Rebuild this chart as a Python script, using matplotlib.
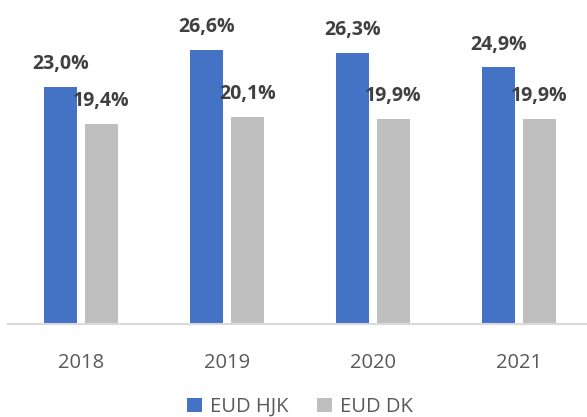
import matplotlib.pyplot as plt
import numpy as np

# Daten
years = ['2018', '2019', '2020', '2021']
eud_hjk = [23.0, 26.6, 26.3, 24.9]
eud_dk = [19.4, 20.1, 19.9, 19.9]
series_names = ['EUD HJK', 'EUD DK']

blue = '#4472C4'
gray = '#BFBFBF'
text_col = '#404040'

plt.rcParams['font.family'] = ['Open Sans', 'DejaVu Sans']

fig = plt.figure(figsize=(5.87, 4.17), dpi=100)
ax = fig.add_axes([8 / 587, 93 / 417, 579 / 587, 324 / 417])

x = np.arange(len(years))
w = 0.226
off = 0.14
b1 = ax.bar(x - off, eud_hjk, w, color=blue, label=series_names[0])
b2 = ax.bar(x + off, eud_dk, w, color=gray, label=series_names[1])

# Datenbeschriftungen
for bars, vals in [(b1, eud_hjk), (b2, eud_dk)]:
    for r, v in zip(bars, vals):
        ax.annotate(f'{v:.1f}%'.replace('.', ','),
                    (r.get_x() + r.get_width() / 2, v),
                    xytext=(0, 16.5), textcoords='offset points',
                    ha='center', va='center', fontsize=14,
                    fontweight='bold', color=text_col)

ax.set_xlim(-0.5, 3.5 - 5 / 146)
ax.set_ylim(0, 31.45)
ax.set_xticks(x)
ax.set_xticklabels(years, fontsize=14.5, color='#595959')
ax.tick_params(axis='x', length=0, pad=21)
ax.set_yticks([])
for s in ['top', 'right', 'left']:
    ax.spines[s].set_visible(False)
ax.spines['bottom'].set_color('#D9D9D9')
ax.spines['bottom'].set_linewidth(1.5)

fig.legend(handles=[b1, b2], loc='center', bbox_to_anchor=(300 / 587, 1 - 407 / 417),
           ncol=2, frameon=False, fontsize=14.5, labelcolor='#595959',
           handlelength=0.75, handleheight=0.75, handletextpad=0.4, columnspacing=1.4)

fig.savefig('out.png', dpi=100)
